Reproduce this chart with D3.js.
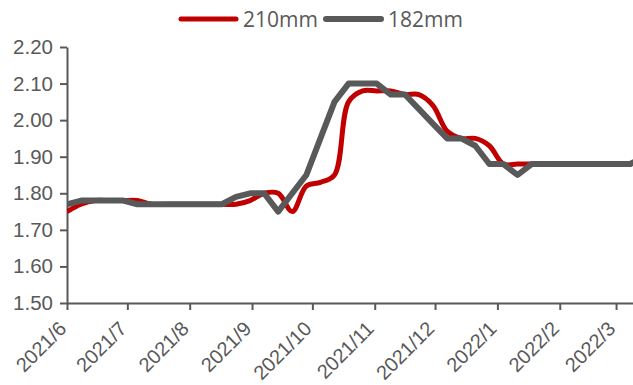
<!DOCTYPE html>
<html>
<head>
<meta charset="utf-8">
<script src="https://cdn.jsdelivr.net/npm/d3@7"></script>
<style>
  html, body { margin: 0; padding: 0; background: #ffffff; }
  svg { display: block; font-family: "Open Sans", "Noto Sans", sans-serif; }
</style>
</head>
<body>
<svg id="chart" width="633" height="385"></svg>
<script>
// Weekly price series (yuan/W), starting from the first observation week
const firstWeek = "2021-06-01";
const seriesNames = ["210mm", "182mm"];
const seriesColors = ["#C00000", "#595959"];

const price210 = [
  1.75, 1.77, 1.78, 1.78, 1.78, 1.78, 1.77, 1.77, 1.77, 1.77,
  1.77, 1.77, 1.77, 1.78, 1.80, 1.80, 1.75, 1.82, 1.83, 1.85,
  2.05, 2.08, 2.08, 2.08, 2.07, 2.07, 2.04, 1.97, 1.95, 1.95,
  1.93, 1.88, 1.88, 1.88, 1.88, 1.88, 1.88, 1.88, 1.88, 1.88,
  1.88, 1.90
];
const price182 = [
  1.77, 1.78, 1.78, 1.78, 1.78, 1.77, 1.77, 1.77, 1.77, 1.77,
  1.77, 1.77, 1.79, 1.80, 1.80, 1.75, 1.80, 1.85, 1.95, 2.05,
  2.10, 2.10, 2.10, 2.07, 2.07, 2.03, 1.99, 1.95, 1.95, 1.93,
  1.88, 1.88, 1.85, 1.88, 1.88, 1.88, 1.88, 1.88, 1.88, 1.88,
  1.88, 1.90
];
const yTicks = [1.50, 1.60, 1.70, 1.80, 1.90, 2.00, 2.10, 2.20];
const monthTicks = ["2021-06-01", "2021-07-01", "2021-08-01", "2021-09-01", "2021-10-01",
                    "2021-11-01", "2021-12-01", "2022-01-01", "2022-02-01", "2022-03-01"];

const parse = d3.timeParse("%Y-%m-%d");
const start = parse(firstWeek);
const weeks = price210.map((_, i) => d3.timeDay.offset(start, 7 * i));

const svg = d3.select("#chart");
const plotLeft = 67, plotRight = 633, plotTop = 47, plotBottom = 303;
const ink = "#595959";

const x = d3.scaleTime()
  .domain([start, new Date(2022, 2, 9, 10)])
  .range([plotLeft, plotRight]);
const y = d3.scaleLinear().domain([1.5, 2.2]).range([plotBottom, plotTop]);

// clip lines to the plotting area
svg.append("defs").append("clipPath").attr("id", "plot")
  .append("rect").attr("x", plotLeft).attr("y", 0)
  .attr("width", plotRight - plotLeft).attr("height", 385);

// y axis
const yAxis = svg.append("g")
  .attr("transform", `translate(${plotLeft},0)`)
  .call(d3.axisLeft(y).tickValues(yTicks).tickFormat(d3.format(".2f"))
    .tickSize(7).tickSizeOuter(0).tickPadding(7));
yAxis.selectAll("path, line").attr("stroke", ink).attr("stroke-width", 2);
yAxis.selectAll("text").attr("fill", ink).style("font-size", "20.5px");

// x axis
const xAxis = svg.append("g")
  .attr("transform", `translate(0,${plotBottom})`)
  .call(d3.axisBottom(x).tickValues(monthTicks.map(parse))
    .tickFormat(d3.timeFormat("%Y/%-m")).tickSize(7).tickSizeOuter(0));
xAxis.selectAll("path, line").attr("stroke", ink).attr("stroke-width", 2);
xAxis.selectAll("text")
  .attr("fill", ink).style("font-size", "20px")
  .attr("text-anchor", "end")
  .attr("x", 0).attr("y", 0).attr("dy", 0)
  .attr("transform", "translate(0,27) rotate(-45)");

// series lines
const lines = svg.append("g").attr("clip-path", "url(#plot)");
const smooth = d3.line()
  .x((d, i) => x(weeks[i])).y(d => y(d))
  .curve(d3.curveCatmullRom.alpha(0.5));
const straight = d3.line()
  .x((d, i) => x(weeks[i])).y(d => y(d));

lines.append("path").datum(price210)
  .attr("d", smooth).attr("fill", "none")
  .attr("stroke", seriesColors[0]).attr("stroke-width", 5)
  .attr("stroke-linejoin", "round");
lines.append("path").datum(price182)
  .attr("d", straight).attr("fill", "none")
  .attr("stroke", seriesColors[1]).attr("stroke-width", 6)
  .attr("stroke-linejoin", "round");

// legend
const legendItems = [
  { name: seriesNames[0], color: seriesColors[0], x: 181, w: 5 },
  { name: seriesNames[1], color: seriesColors[1], x: 326, w: 6 }
];
const legend = svg.append("g");
legendItems.forEach(it => {
  legend.append("line")
    .attr("x1", it.x).attr("x2", it.x + 55).attr("y1", 19).attr("y2", 19)
    .attr("stroke", it.color).attr("stroke-width", it.w).attr("stroke-linecap", "round");
  legend.append("text")
    .attr("x", it.x + 62).attr("y", 27)
    .attr("fill", ink).style("font-size", "21px")
    .text(it.name);
});
</script>
</body>
</html>
